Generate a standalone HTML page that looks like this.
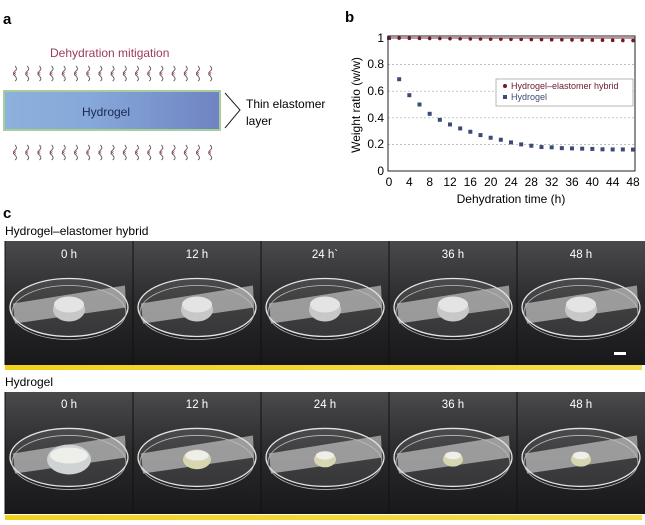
<!DOCTYPE html>
<html><head><meta charset="utf-8"><style>
body{margin:0;background:#fff;width:645px;height:525px;overflow:hidden;font-family:"Liberation Sans",Arial,sans-serif}
svg{position:absolute;left:0;top:0}
</style></head><body>
<svg id="s" width="645" height="525" viewBox="0 0 645 525" font-family="Liberation Sans, Arial, sans-serif">
<defs>
<linearGradient id="hg" x1="0" x2="1"><stop offset="0" stop-color="#8eb0dc"/><stop offset="0.4" stop-color="#86a8da"/><stop offset="1" stop-color="#6f83c2"/></linearGradient>
<linearGradient id="bg" x1="0" y1="0" x2="0" y2="1"><stop offset="0" stop-color="#4a4a4c"/><stop offset="0.5" stop-color="#2a2a2c"/><stop offset="1" stop-color="#18181a"/></linearGradient>
<linearGradient id="yl" x1="0" x2="1"><stop offset="0" stop-color="#f3d21c"/><stop offset="1" stop-color="#f6dc4a"/></linearGradient>
</defs>
<text x="3" y="24" font-size="15" font-weight="bold">a</text>
<text x="50" y="57" font-size="12" fill="#9b3a5a">Dehydration mitigation</text>
<g id="sq1"></g><g id="sq2"></g>
<rect x="4" y="91" width="216" height="39" fill="url(#hg)" stroke="#a6cf98" stroke-width="2"/>
<text x="82" y="116" font-size="12" fill="#1a2850">Hydrogel</text>
<path d="M225 93 L240 110 L225 128" fill="none" stroke="#222" stroke-width="1"/>
<text x="246" y="108" font-size="12">Thin elastomer</text>
<text x="246" y="125" font-size="12">layer</text>

<text x="345" y="22" font-size="15" font-weight="bold">b</text>
<g id="plot"></g>
<text x="3" y="218" font-size="15" font-weight="bold">c</text>
<text x="5" y="235" font-size="12">Hydrogel–elastomer hybrid</text>
<text x="5" y="386" font-size="12">Hydrogel</text>
<g id="ph"></g>
<g fill="#fff" font-size="11.5" text-anchor="middle">
<text x="69" y="258">0 h</text><text x="197" y="258">12 h</text><text x="325" y="258">24 h`</text><text x="453" y="258">36 h</text><text x="581" y="258">48 h</text>
<text x="69" y="408">0 h</text><text x="197" y="408">12 h</text><text x="325" y="408">24 h</text><text x="453" y="408">36 h</text><text x="581" y="408">48 h</text>
</g>
<g font-size="12" text-anchor="middle">
<text x="389" y="186">0</text><text x="409.3" y="186">4</text><text x="429.7" y="186">8</text><text x="450" y="186">12</text><text x="470.3" y="186">16</text><text x="490.7" y="186">20</text><text x="511" y="186">24</text><text x="531.3" y="186">28</text><text x="551.7" y="186">32</text><text x="572" y="186">36</text><text x="592.3" y="186">40</text><text x="612.7" y="186">44</text><text x="633" y="186">48</text>
<text x="511" y="203">Dehydration time (h)</text>
</g>
<g font-size="12" text-anchor="end">
<text x="384" y="42">1</text><text x="384" y="68">0.8</text><text x="384" y="95">0.6</text><text x="384" y="122">0.4</text><text x="384" y="148">0.2</text><text x="384" y="175">0</text>
</g>
<text transform="translate(360,105) rotate(-90)" font-size="12" text-anchor="middle">Weight ratio (w/w)</text>
<rect x="496" y="79" width="137" height="27" fill="#fff" stroke="#999" stroke-width="0.7"/>
<circle cx="505" cy="86" r="2" fill="#6a1a2a"/><text x="511" y="89" font-size="9" fill="#6a1a2a">Hydrogel–elastomer hybrid</text>
<rect x="503" y="95" width="4" height="4" fill="#3c4a78"/><text x="511" y="100" font-size="9" fill="#3c4a78">Hydrogel</text>
</svg>
<script>
const NS="http://www.w3.org/2000/svg";
function el(p,t,a){const e=document.createElementNS(NS,t);for(const k in a)e.setAttribute(k,a[k]);p.appendChild(e);return e;}
[[sq1,66],[sq2,145]].forEach(([g,y])=>{for(let i=0;i<17;i++){const x=15+i*12.2;
el(g,'path',{d:`M${x} ${y} q3 3 0 5 q-3 3 0 5 q3 3 0 5`,fill:'none',stroke:'#666','stroke-width':1});
el(g,'text',{x:x-2.5,y:y+10,'font-size':7,fill:'#b03050'}).textContent='×';}});
const P=document.getElementById('plot');
const X=h=>389+h*(244/48),Y=v=>171-v*133;
[0.2,0.4,0.6,0.8].forEach(v=>el(P,'line',{x1:388,x2:635,y1:Y(v),y2:Y(v),stroke:'#aaa','stroke-dasharray':'2,2','stroke-width':0.7}));
el(P,'line',{x1:388,x2:635,y1:Y(1),y2:Y(1),stroke:'#8a2a3a','stroke-width':1});
el(P,'rect',{x:388,y:36,width:247,height:135,fill:'none',stroke:'#222','stroke-width':1});
const hv=[1,0.69,0.57,0.5,0.43,0.385,0.35,0.32,0.295,0.27,0.25,0.235,0.215,0.2,0.19,0.18,0.178,0.172,0.17,0.168,0.166,0.163,0.162,0.162,0.161];
hv.forEach((v,i)=>{const h=i*2;
el(P,'rect',{x:X(h)-2,y:Y(v)-2,width:4,height:4,fill:'#3c4a78'});
el(P,'circle',{cx:X(h),cy:Y(1-0.0004*h),r:1.8,fill:'#6a1a2a'});});
const G=document.getElementById('ph');
[[241,124,365],[392,122,515]].forEach(([t,h,yb],r)=>{
for(let i=0;i<5;i++){const x=5+i*128,w=128;
el(G,'rect',{x,y:t,width:w,height:h,fill:'url(#bg)'});
el(G,'line',{x1:x,x2:x,y1:t,y2:t+h,stroke:'#111','stroke-width':1});
const cx=x+64,cy=t+h*0.52;
el(G,'path',{d:`M${x+8} ${cy-2} L${x+120} ${cy-20} L${x+121} ${cy+2} L${x+10} ${cy+18}Z`,fill:'#a4a4a6',opacity:0.85});
el(G,'ellipse',{cx,cy:cy+2,rx:59,ry:29,fill:'rgba(220,220,225,0.12)',stroke:'#e4e4e4','stroke-width':1.3});
el(G,'ellipse',{cx,cy:cy+7,rx:57,ry:27,fill:'none',stroke:'#bbb','stroke-width':0.8});
if(r==0){el(G,'ellipse',{cx,cy:cy+4,rx:16,ry:12,fill:'#c8c8c8'});el(G,'ellipse',{cx,cy:cy-1,rx:15,ry:8,fill:'#e4e4e4'});}
else{const s=[1,0.6,0.45,0.4,0.4][i];el(G,'ellipse',{cx,cy:cy+4,rx:20*s+2,ry:13*s+2,fill:i?'#d8d6b0':'#cfd3d6'});el(G,'ellipse',{cx,cy:cy,rx:18*s+1,ry:7*s+1,fill:'#eeeeea'});}
}
el(G,'rect',{x:5,y:yb,width:637,height:5,fill:'url(#yl)'});});
el(G,'rect',{x:614,y:352,width:12,height:3,fill:'#fff'});
</script>
</body></html>
